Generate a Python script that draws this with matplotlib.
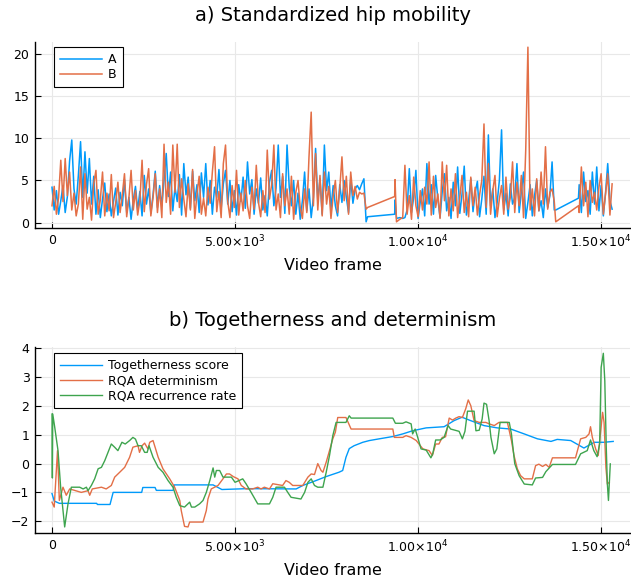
import numpy as np
import matplotlib.pyplot as plt
from matplotlib.ticker import FixedLocator, FixedFormatter

# ---- a) standardized hip mobility (values read off the picture) ----
step = 60
frames_seg1 = np.arange(0, 8521, step)
frames_gap1 = [8580, 8620, 9360, 9370, 9410, 9500, 9580]
frames_seg2 = np.arange(9640, 13721, step)
frames_gap2 = [13760, 14380]
frames_seg3 = np.arange(14400, 15301, step)

hip_a1 = [4.2, 1.5, 3.8, 1.0, 2.6, 4.4, 1.2, 3.1, 7.3, 9.8,
          4.0, 2.2, 5.6, 9.6, 3.0, 8.4, 3.5, 7.6, 2.2, 5.5,
          1.0, 3.9, 0.6, 2.8, 4.7, 1.3, 3.4, 0.8, 2.5, 4.1,
          0.9, 3.6, 2.0, 5.1, 1.2, 3.0, 0.4, 2.7, 4.3, 1.5,
          3.7, 0.8, 5.6, 2.2, 4.0, 1.1, 3.3, 6.1, 1.8, 4.4,
          2.0, 5.0, 8.2, 3.1, 6.0, 1.4, 4.2, 2.5, 5.7, 0.9,
          7.0, 3.3, 5.4, 1.7, 6.1, 2.6, 4.5, 1.2, 5.9, 3.0,
          7.0, 2.1, 5.0, 1.0, 4.2, 3.0, 6.3, 1.6, 4.6, 6.2,
          2.2, 5.0, 1.3, 3.8, 0.9, 4.5, 2.5, 5.4, 1.7, 7.2,
          3.4, 5.1, 1.0, 4.0, 2.3, 5.3, 1.5, 3.2, 0.8, 4.8,
          6.2, 2.0, 4.1, 9.2, 3.0, 5.5, 1.1, 9.2, 4.2, 2.0,
          5.0, 1.0, 3.5, 0.4, 2.6, 6.0, 1.4, 4.0, 0.6, 3.0,
          8.8, 2.5, 5.2, 1.0, 9.2, 3.8, 6.0, 1.6, 4.4, 2.0,
          0.8, 4.5, 2.4, 5.0, 3.0, 1.2, 5.2, 2.3, 4.0, 4.4,
          3.9, 4.6, 5.2]
hip_a_gap1 = [0.1, 0.7, 1.0, 2.7, 0.5, 0.6, 0.5]
hip_a2 = [0.6, 1.5, 6.4, 1.2, 3.0, 6.2, 0.5, 2.5, 4.0, 0.8,
          7.0, 2.2, 4.5, 1.0, 5.6, 2.8, 0.6, 3.7, 5.8, 1.4,
          3.0, 0.5, 4.8, 2.0, 6.6, 1.1, 3.4, 6.7, 0.9, 2.6,
          5.2, 1.3, 3.6, 4.9, 0.7, 2.8, 5.5, 1.0, 10.4, 2.0,
          4.0, 0.6, 2.4, 5.0, 11.0, 1.5, 3.5, 0.8, 4.6, 2.2,
          3.0, 7.0, 1.2, 3.6, 6.0, 0.5, 2.4, 4.5, 0.8, 3.2,
          5.0, 1.4, 2.6, 0.6, 4.0, 1.8, 3.2, 7.2, 1.5]
hip_a_gap2 = [1.5, 2.9]
hip_a3 = [4.5, 1.2, 6.0, 2.5, 3.8, 1.0, 6.0, 2.2, 6.6, 1.4,
          4.4, 0.8, 3.5, 7.0, 2.6, 1.6]

hip_b1 = [2.0, 4.3, 1.0, 3.0, 7.4, 2.5, 7.6, 3.2, 6.0, 1.5,
          3.5, 0.8, 2.2, 6.6, 0.4, 5.8, 1.6, 3.0, 0.3, 4.6,
          6.2, 1.0, 2.7, 6.0, 0.8, 3.5, 1.4, 5.7, 0.6, 2.4,
          4.8, 1.2, 3.3, 5.8, 0.7, 2.9, 6.2, 1.5, 3.8, 0.9,
          2.6, 7.4, 1.3, 4.5, 6.4, 0.8, 3.0, 5.8, 1.2, 4.0,
          0.6, 9.3, 2.4, 4.8, 1.0, 9.2, 3.6, 9.3, 1.8, 5.2,
          2.8, 0.7, 4.6, 1.5, 6.3, 0.5, 3.4, 5.5, 1.0, 2.9,
          0.8, 4.2, 2.3, 6.0, 9.0, 1.3, 3.7, 0.6, 7.0, 9.2,
          2.5, 0.6, 4.4, 1.8, 6.2, 0.9, 3.5, 1.4, 5.0, 2.0,
          0.5, 4.2, 1.6, 6.8, 2.4, 0.7, 3.8, 1.2, 8.6, 2.8,
          4.5, 9.2, 1.5, 3.4, 0.6, 5.8, 2.0, 4.0, 1.0, 5.5,
          0.4, 3.6, 5.0, 1.8, 0.5, 4.0, 1.2, 7.8, 13.1, 2.0,
          8.2, 1.5, 5.6, 0.8, 6.0, 2.2, 4.3, 0.5, 3.1, 5.0,
          1.2, 4.0, 7.8, 2.6, 5.5, 1.0, 6.0, 3.2, 4.3, 2.8,
          3.6, 3.4, 3.5]
hip_b_gap1 = [1.6, 1.8, 3.1, 5.1, 0.1, 0.4, 0.6]
hip_b2 = [6.8, 1.0, 3.2, 0.4, 5.4, 2.0, 0.7, 3.8, 1.5, 4.2,
          2.2, 7.2, 0.9, 5.5, 1.8, 3.4, 0.5, 7.2, 2.6, 6.8,
          0.8, 4.0, 1.4, 5.8, 0.6, 3.0, 5.6, 1.2, 3.6, 0.7,
          5.4, 2.0, 4.2, 0.9, 3.3, 5.0, 11.7, 1.8, 7.0, 1.0,
          3.8, 5.6, 0.7, 2.8, 4.4, 1.0, 5.4, 1.6, 3.0, 7.2,
          1.2, 4.8, 2.0, 5.6, 0.6, 8.6, 20.8, 1.5, 4.0, 0.8,
          5.2, 1.4, 6.0, 2.2, 9.0, 1.6, 3.6, 4.0, 2.5]
hip_b_gap2 = [0.1, 2.0]
hip_b3 = [1.2, 6.6, 2.0, 4.8, 0.7, 5.0, 2.4, 3.6, 1.5, 4.2,
          5.8, 1.0, 3.4, 5.8, 0.9, 4.6]

# ---- b) togetherness and determinism ----
frames_tog = [0, 60, 200, 1220, 1240, 1585, 1670, 2450, 2480, 2815, 2850, 3310,
              3340, 4400, 4640, 5330, 6670, 6850, 7210, 7490, 7840, 7940, 8030,
              8120, 8250, 8490, 8670, 8940, 9310, 9580, 9850, 10220, 10710,
              10980, 11200, 11440, 11800, 12160, 12530, 12900, 13260, 13630,
              13800, 14170, 14530, 14810, 15080, 15330]
tog = [-1.04, -1.3, -1.38, -1.38, -1.42, -1.42, -1.0, -1.0, -0.83, -0.83, -0.93,
       -0.93, -0.74, -0.74, -0.9, -0.87, -0.88, -0.76, -0.59, -0.45, -0.3,
       -0.24, 0.22, 0.52, 0.62, 0.74, 0.8, 0.86, 0.94, 1.03, 1.14, 1.24, 1.28,
       1.49, 1.61, 1.49, 1.32, 1.24, 1.2, 1.03, 0.86, 0.77, 0.84, 0.8, 0.54,
       0.74, 0.74, 0.77]

frames_det = [0, 60, 150, 200, 300, 390, 483, 800, 983, 1030, 1100, 1350, 1480,
              1620, 1712, 1850, 1985, 2120, 2210, 2350, 2390, 2460, 2530, 2620,
              2670, 2760, 2900, 3030, 3215, 3350, 3490, 3530, 3620, 3715, 3760,
              4125, 4215, 4260, 4350, 4535, 4670, 4765, 4850, 4950, 5080, 5170,
              5300, 5480, 5620, 5710, 5800, 5940, 6030, 6300, 6390, 6480, 6575,
              6850, 6990, 7080, 7170, 7260, 7350, 7400, 7490, 7580, 7670, 7740,
              7805, 8030, 8170, 9310, 9350, 9580, 9670, 9810, 9950, 10130,
              10300, 10390, 10480, 10570, 10660, 10750, 10850, 10940, 11030,
              11120, 11210, 11300, 11370, 11440, 11530, 11670, 11850, 11940,
              12080, 12210, 12440, 12550, 12620, 12710, 12800, 12900, 13120,
              13210, 13300, 13400, 13490, 13580, 13670, 14300, 14440, 14580,
              14670, 14710, 14760, 14850, 14920, 14970, 15040, 15080, 15130,
              15170, 15220]
det = [-1.34, -1.51, 0.45, -1.28, -0.82, -1.1, -0.88, -1.0, -0.94, -1.1, -0.88,
       -0.82, -0.88, -0.76, -0.47, -0.3, -0.13, 0.22, 0.57, 0.62, 0.39, 0.62,
       0.71, 0.51, 0.74, 0.8, 0.22, -0.18, -0.53, -0.82, -1.28, -1.63, -2.18,
       -2.2, -2.03, -2.03, -1.63, -1.23, -0.88, -0.76, -0.53, -0.36, -0.36,
       -0.45, -0.53, -0.76, -0.88, -0.88, -0.82, -0.88, -0.82, -0.88, -0.7,
       -0.76, -0.59, -0.65, -0.76, -0.76, -0.47, -0.36, -0.38, 0.0, -0.24,
       -0.3, 0.05, 0.45, 0.86, 1.09, 1.6, 1.6, 1.2, 1.2, 0.91, 0.91, 0.97,
       0.91, 0.8, 0.51, 0.45, 0.28, 0.68, 0.68, 0.91, 0.93, 1.58, 1.51, 1.58,
       1.63, 1.6, 1.9, 2.21, 2.01, 1.49, 1.43, 1.43, 1.38, 1.32, 1.43, 1.43,
       0.8, 0.28, -0.18, -0.42, -0.53, -0.53, -0.07, -0.02, -0.1, -0.03, -0.13,
       0.2, 0.2, 0.86, 0.91, 1.03, 1.28, 0.91, 0.51, 0.28, 0.91, 1.78, 1.43,
       -0.13, -0.71, -0.65]

frames_rr = [0, 10, 20, 70, 164, 236, 346, 437, 528, 756, 850, 940, 983, 1075,
             1165, 1260, 1350, 1440, 1530, 1620, 1710, 1800, 1910, 2000, 2120,
             2210, 2280, 2350, 2440, 2530, 2600, 2650, 2760, 2900, 3030, 3170,
             3305, 3395, 3490, 3620, 3760, 3810, 3900, 4030, 4125, 4215, 4310,
             4400, 4445, 4490, 4580, 4670, 4900, 5000, 5210, 5300, 5440, 5620,
             5940, 6030, 6120, 6350, 6440, 6530, 6800, 6900, 6990, 7080, 7170,
             7260, 7400, 7490, 7580, 7670, 7760, 8030, 8120, 8170, 9310, 9380,
             9580, 9670, 9810, 9850, 9920, 9990, 10080, 10220, 10350, 10400,
             10480, 10600, 10710, 10820, 10890, 11120, 11210, 11280, 11350,
             11530, 11580, 11670, 11750, 11800, 11870, 11940, 11990, 12080,
             12150, 12240, 12490, 12550, 12640, 12760, 12900, 13120, 13210,
             13400, 13490, 13670, 14300, 14440, 14620, 14710, 14800, 14890,
             14960, 15000, 15060, 15100, 15140, 15170, 15200, 15250]
rr = [1.72, -0.5, 1.72, 1.3, 0.45, -0.82, -2.2, -1.4, -0.82, -0.82, -0.88,
      -0.82, -0.94, -0.76, -0.53, -0.18, -0.13, 0.1, 0.39, 0.68, 0.57, 0.45,
      0.74, 0.68, 0.8, 0.91, 0.85, 0.62, 0.62, 0.39, 0.39, 0.62, 0.22, -0.13,
      -0.3, -0.59, -0.82, -1.17, -1.46, -1.51, -1.34, -1.51, -1.51, -1.4,
      -1.28, -1.0, -0.59, -0.15, -0.47, -0.24, -0.24, -0.47, -0.47, -0.65,
      -0.53, -0.7, -1.0, -1.4, -1.4, -1.17, -0.82, -0.82, -1.0, -1.17, -1.23,
      -1.0, -0.65, -0.53, -0.76, -0.82, -0.82, -0.3, 0.28, 0.97, 1.43, 1.43,
      1.66, 1.58, 1.58, 1.4, 1.4, 1.45, 1.38, 1.03, 1.2, 0.91, 0.51, 0.47, 0.2,
      0.34, 0.82, 0.82, 0.91, 1.32, 1.2, 1.12, 0.86, 1.12, 1.82, 1.82, 1.14,
      1.16, 1.55, 2.1, 2.06, 1.49, 0.91, 0.34, 0.51, 1.43, 1.43, 1.03, 0.0,
      -0.42, -0.71, -0.74, -0.5, -0.48, -0.28, -0.03, -0.03, 0.34, 0.45, 0.82,
      0.45, 0.24, 0.68, 3.34, 3.83, 2.88, 0.57, -0.71, -1.28, -0.01]

xticks = [0, 5000, 10000, 15000]
xtick_labels = ['0', r'$5.00{\times}10^{3}$', r'$1.00{\times}10^{4}$', r'$1.50{\times}10^{4}$']

blue = '#009AFA'
orange = '#E36F47'
green = '#3EA44E'

plt.rcParams['font.family'] = 'DejaVu Sans'
plt.rcParams['mathtext.fontset'] = 'dejavusans'

fig = plt.figure(figsize=(6.31, 5.85), dpi=100)
ax1 = fig.add_axes([0.0555, 0.6103, 0.943, 0.318])
ax2 = fig.add_axes([0.0555, 0.0889, 0.943, 0.3185])

frames_a = np.concatenate([frames_seg1, frames_gap1, frames_seg2, frames_gap2, frames_seg3])
hip_a = np.concatenate([hip_a1, hip_a_gap1, hip_a2, hip_a_gap2, hip_a3])
hip_b = np.concatenate([hip_b1, hip_b_gap1, hip_b2, hip_b_gap2, hip_b3])

ax1.plot(frames_a, hip_a, color=blue, lw=1.1, label='A')
ax1.plot(frames_a, hip_b, color=orange, lw=1.1, label='B')
ax1.set_ylim(-0.63, 21.42)
ax1.set_yticks([0, 5, 10, 15, 20])
ax1.set_title('a) Standardized hip mobility', fontsize=14, pad=15)

ax2.plot(frames_tog, tog, color=blue, lw=1, label='Togetherness score')
ax2.plot(frames_det, det, color=orange, lw=1, label='RQA determinism')
ax2.plot(frames_rr, rr, color=green, lw=1, label='RQA recurrence rate')
ax2.set_ylim(-2.41, 4.06)
ax2.set_yticks([-2, -1, 0, 1, 2, 3, 4])
ax2.set_title('b) Togetherness and determinism', fontsize=14, pad=15)

for ax, ly in ((ax1, 0.973), (ax2, 0.966)):
    ax.set_xlim(-464, 15790)
    ax.xaxis.set_major_locator(FixedLocator(xticks))
    ax.xaxis.set_major_formatter(FixedFormatter(xtick_labels))
    ax.set_xlabel('Video frame', fontsize=11.5, labelpad=6)
    ax.grid(True, color='#e8e8e8', lw=0.8)
    ax.set_axisbelow(True)
    for s in ('top', 'right'):
        ax.spines[s].set_visible(False)
    for s in ('left', 'bottom'):
        ax.spines[s].set_color('black')
        ax.spines[s].set_linewidth(1)
    ax.tick_params(direction='in', length=4, width=0.8, labelsize=9, pad=4)
    leg = ax.legend(loc='upper left', bbox_to_anchor=(0.032, ly), borderaxespad=0,
                    fontsize=9, fancybox=False, framealpha=1, edgecolor='black',
                    handlelength=3.3, handletextpad=0.5, labelspacing=0.15,
                    borderpad=0.5)
    leg.get_frame().set_linewidth(0.8)

fig.savefig('out.png', dpi=100)
